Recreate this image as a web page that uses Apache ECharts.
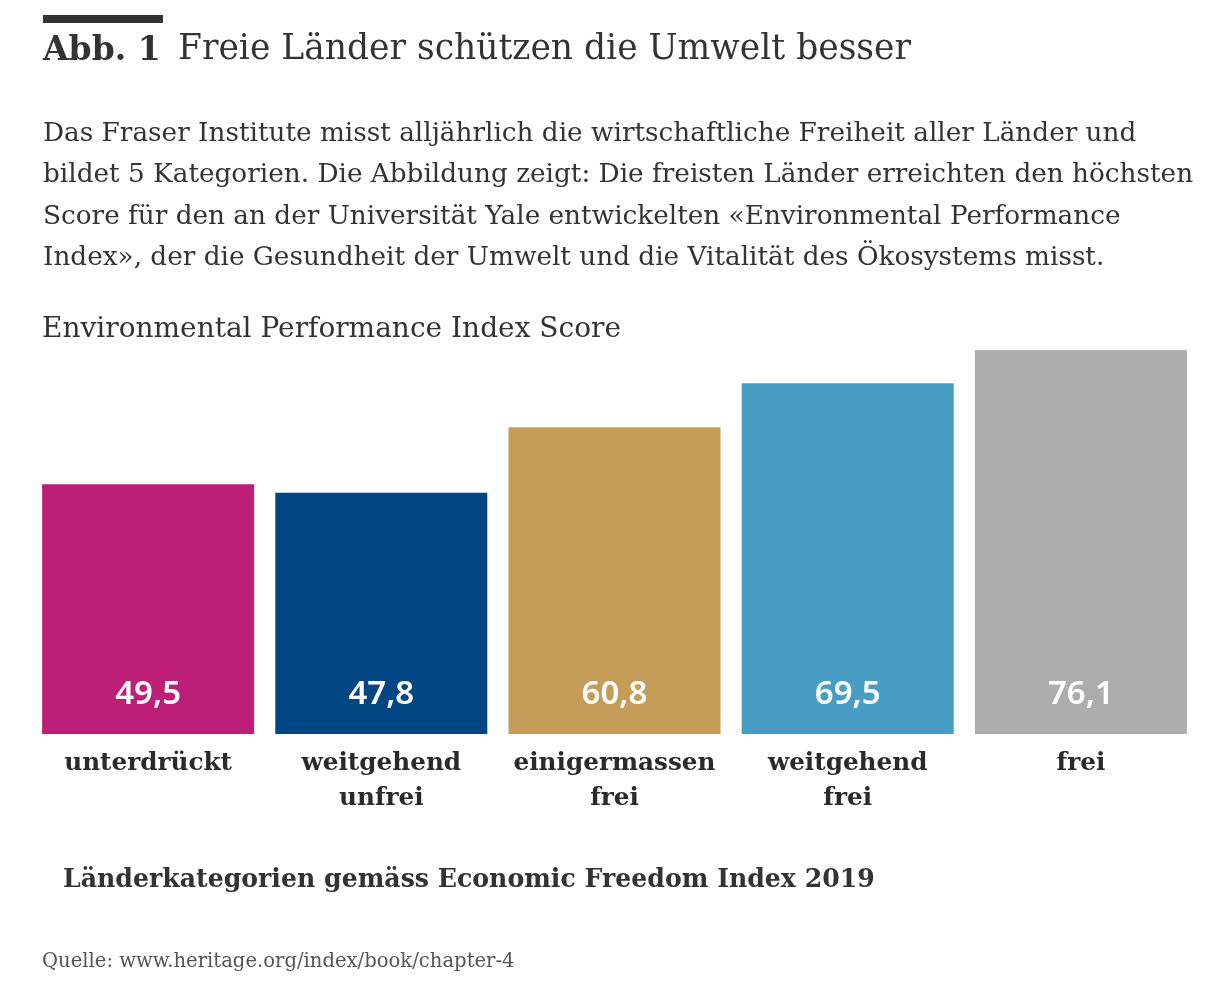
<!DOCTYPE html>
<html>
<head>
<meta charset="utf-8">
<script src="https://cdn.jsdelivr.net/npm/echarts@6/dist/echarts.min.js"></script>
<style>
  html, body { margin: 0; padding: 0; background: #fff; }
  #chart-panel { width: 1227px; height: 984px; }
</style>
</head>
<body>
<div id="chart-panel"></div>
<script>
// Länderkategorien und EPI-Werte
var categories = ['unterdrückt', 'weitgehend\nunfrei', 'einigermassen\nfrei', 'weitgehend\nfrei', 'frei'];
var scores = [49.5, 47.8, 60.8, 69.5, 76.1];
var barColors = ['#bd1f78', '#004684', '#c49c58', '#489dc4', '#adadad'];

var serif = '"DejaVu Serif", serif';
var sans = '"Noto Sans", sans-serif';

var chart = document.getElementById('chart-panel');
var myChart = echarts.init(chart);

var option = {
  animation: false,
  backgroundColor: '#fff',
  graphic: [
    { type: 'rect', left: 43, top: 15, shape: { width: 120, height: 8 }, style: { fill: '#333' } },
    { type: 'text', left: 43, top: 35, style: { text: 'Abb. 1', font: 'bold 33px ' + serif, fill: '#333' } },
    { type: 'text', left: 178, top: 33, style: { text: 'Freie Länder schützen die Umwelt besser', font: '34.5px ' + serif, fill: '#333' } },
    {
      type: 'text', left: 43, top: 113,
      style: {
        text: 'Das Fraser Institute misst alljährlich die wirtschaftliche Freiheit aller Länder und\n' +
              'bildet 5 Kategorien. Die Abbildung zeigt: Die freisten Länder erreichten den höchsten\n' +
              'Score für den an der Universität Yale entwickelten «Environmental Performance\n' +
              'Index», der die Gesundheit der Umwelt und die Vitalität des Ökosystems misst.',
        font: '26.3px ' + serif, lineHeight: 41.5, fill: '#333'
      }
    },
    { type: 'text', left: 42, top: 316, style: { text: 'Environmental Performance Index Score', font: '28px ' + serif, fill: '#333' } },
    { type: 'text', left: 63, top: 868, style: { text: 'Länderkategorien gemäss Economic Freedom Index 2019', font: 'bold 25.2px ' + serif, fill: '#333' } },
    { type: 'text', left: 42, top: 952, style: { text: 'Quelle: www.heritage.org/index/book/chapter-4', font: '19.6px ' + serif, fill: '#555' } }
  ],
  grid: { left: 31.5, right: 29.5, top: 350, bottom: 250 },
  xAxis: {
    type: 'category',
    data: categories,
    axisLine: { show: false },
    axisTick: { show: false },
    axisLabel: {
      interval: 0,
      margin: 12,
      color: '#2a2a2a',
      fontFamily: serif,
      fontWeight: 'bold',
      fontSize: 24.7,
      lineHeight: 35
    }
  },
  yAxis: {
    type: 'value',
    min: 0,
    max: 'dataMax',
    show: false
  },
  series: [
    {
      type: 'bar',
      data: scores.map(function (v, i) {
        return { value: v, itemStyle: { color: barColors[i] } };
      }),
      barWidth: 212,
      label: {
        show: true,
        position: 'insideBottom',
        distance: 23,
        color: '#fff',
        fontFamily: sans,
        fontWeight: 600,
        fontSize: 33,
        formatter: function (p) { return p.value.toFixed(1).replace('.', ','); }
      }
    }
  ]
};

myChart.setOption(option);
</script>
</body>
</html>
